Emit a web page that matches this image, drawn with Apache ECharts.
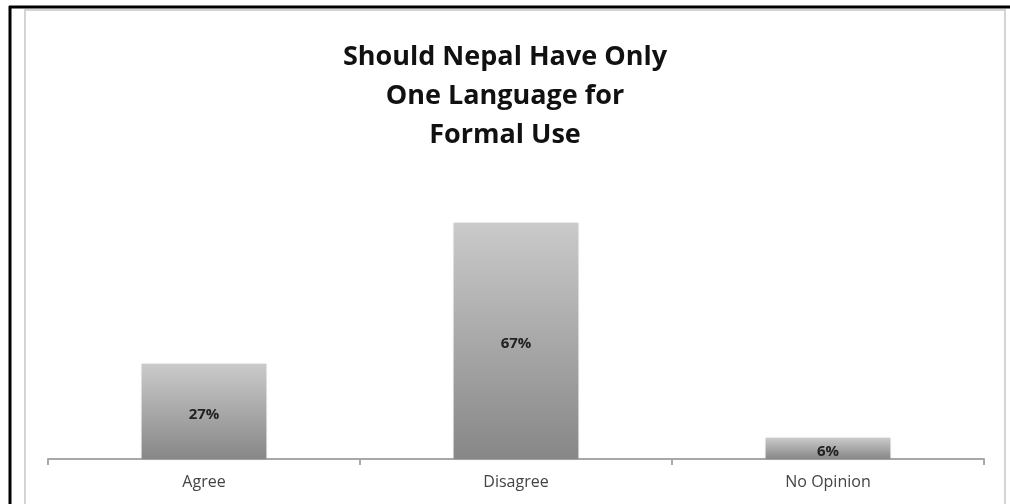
<!DOCTYPE html>
<html>
<head>
<meta charset="utf-8">
<script src="https://cdn.jsdelivr.net/npm/echarts@6/dist/echarts.min.js"></script>
<style>
html,body{margin:0;padding:0;background:#fff;}
#c{width:1010px;height:504px;}
</style>
</head>
<body>
<div id="c"></div>
<script>
const titleText = 'Should Nepal Have Only\nOne Language for\nFormal Use';
const categories = ['Agree', 'Disagree', 'No Opinion'];
const values = [27, 67, 6];

const chart = echarts.init(document.getElementById('c'));
chart.setOption({
  animation: false,
  backgroundColor: '#ffffff',
  title: {
    text: titleText,
    left: 'center',
    top: 33,
    textStyle: {
      fontFamily: 'Open Sans',
      fontWeight: 'bold',
      fontSize: 27,
      lineHeight: 39,
      color: '#111'
    }
  },
  grid: { left: 48, right: 26, top: 177, bottom: 45 },
  xAxis: {
    type: 'category',
    data: categories,
    axisLine: { lineStyle: { color: '#a8a8a8', width: 2 } },
    axisTick: { show: true, length: 6, lineStyle: { color: '#a8a8a8', width: 2 } },
    axisLabel: { color: '#444', fontFamily: 'Open Sans', fontSize: 16, margin: 15 }
  },
  yAxis: { type: 'value', min: 0, max: 80, show: false, splitLine: { show: false } },
  series: [{
    type: 'bar',
    data: values,
    barWidth: '40%',
    itemStyle: {
      color: new echarts.graphic.LinearGradient(0, 0, 0, 1, [
        { offset: 0, color: '#cacaca' },
        { offset: 1, color: '#878787' }
      ]),
      shadowBlur: 3,
      shadowColor: 'rgba(0,0,0,0.15)'
    },
    label: {
      show: true,
      position: 'inside',
      offset: [0, 3],
      formatter: p => p.value + '%',
      fontFamily: 'Open Sans',
      fontWeight: 'bold',
      fontSize: 15,
      color: '#222'
    }
  }],
  graphic: [
    { type: 'rect', shape: { x: 25, y: 10, width: 980, height: 520 }, style: { fill: 'none', stroke: '#d4d4d4', lineWidth: 2 }, silent: true },
    { type: 'line', shape: { x1: 9, y1: 7, x2: 1010, y2: 7 }, style: { stroke: '#000', lineWidth: 3 }, silent: true },
    { type: 'line', shape: { x1: 10, y1: 6, x2: 10, y2: 504 }, style: { stroke: '#000', lineWidth: 3 }, silent: true }
  ]
});
</script>
</body>
</html>
